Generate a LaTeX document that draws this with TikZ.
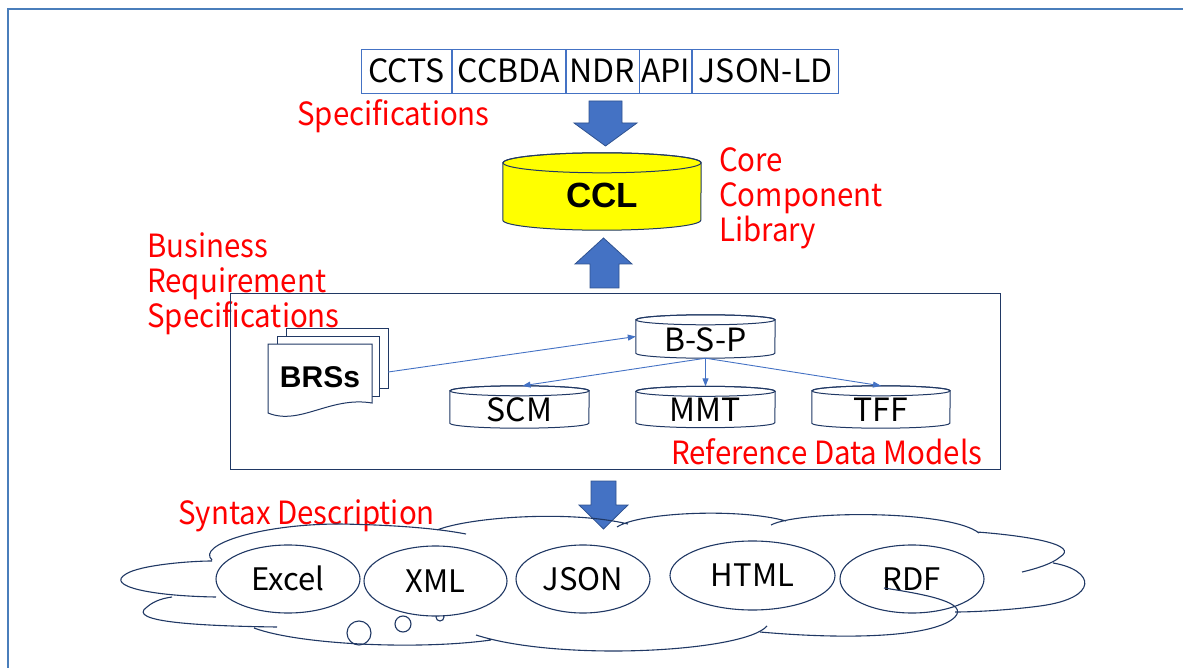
\documentclass[tikz,border=0pt]{standalone}
\usepackage{fontspec}
\setmainfont{Noto Sans CJK JP}
\newfontfamily\labelfont{Noto Sans CJK JP}[FakeStretch=0.92]
\newfontfamily\arialfont{Liberation Sans}
\usetikzlibrary{arrows.meta,shapes.geometric}
\definecolor{accent}{HTML}{4472C4}
\definecolor{accentdark}{HTML}{2F528F}
\definecolor{navy}{HTML}{203864}
\definecolor{labelred}{HTML}{FF0000}
\definecolor{cylyellow}{HTML}{FFFF00}
\definecolor{frameblue}{HTML}{4A7EBB}
% #1 node, #2 x radius, #3 y radius, #4 fill
\newcommand\cylshape[4]{%
  \path[cylline,fill=#4] ([yshift=-#3]#1.north west) -- ([yshift=#3]#1.south west)
    arc[start angle=180,end angle=360,x radius=#2,y radius=#3]
    -- ([yshift=-#3]#1.north east)
    arc[start angle=0,end angle=180,x radius=#2,y radius=#3] -- cycle;
  \draw[cylline] ([yshift=-#3]#1.north) ellipse[x radius=#2,y radius=#3];
}
\begin{document}
\begin{tikzpicture}[x=1pt,y=-1pt,
  txt/.style={font=\fontsize{32}{35}\selectfont},
  cell/.style={draw=accent, line width=0.8pt, inner sep=0pt, minimum height=44pt,
    txt, text height=23pt, text depth=0pt, anchor=west},
  redlabel/.style={text=labelred, font=\labelfont\fontsize{32}{35}\selectfont,
    anchor=west, inner sep=0pt, align=left},
  blockarrow/.style={fill=accent, draw=accentdark, line width=0.8pt},
  cylline/.style={draw=navy, line width=1pt},
  cylbox/.style={inner sep=0pt},
  cyltext/.style={txt, inner sep=0pt, text height=23pt, text depth=0pt},
  conn/.style={draw=accent, line width=0.9pt, -{Triangle[length=8pt,width=6pt]}},
  doc/.style={draw=navy, line width=1pt, fill=white},
  cloudline/.style={draw=navy, line width=1.1pt},
  syn/.style={ellipse, draw=navy, line width=1.1pt, fill=white, inner sep=0pt,
    font=\fontsize{31}{35}\selectfont, text height=22pt, text depth=0pt},
  frame/.style={draw=frameblue, line width=2pt}
]
\useasboundingbox (0,0) rectangle (1183,668);
% outer frame
\draw[frame] (8,668) -- (8,9) -- (1183,9);

% specification table
\node[cell, minimum width=90pt] (ccts) at (361,71) {CCTS};
\node[cell, minimum width=113pt] (ccbda) at (ccts.east) {CCBDA};
\node[cell, minimum width=73pt] (ndr) at (ccbda.east) {NDR};
\node[cell, minimum width=52pt] (api) at (ndr.east) {API};
\node[cell, minimum width=146pt] (jsonld) at (api.east) {JSON-LD};

\node[redlabel] (speclabel) at (297,116) {Specifications};

% arrow 1
\draw[blockarrow] (589,101) -- (622,101) -- (622,123) -- (637,123) -- (605.5,146)
  -- (574,123) -- (589,123) -- cycle;

% CCL
\node[cylbox, minimum width=198pt, minimum height=77pt] (ccl) at (602,191.5) {};
\cylshape{ccl}{99pt}{10pt}{cylyellow}
\node[cyltext, font=\arialfont\bfseries\fontsize{35}{38}\selectfont, text height=25pt] (ccltext) at ([yshift=-4pt]ccl.center) {CCL};
\node[redlabel] (corelabel) at (719,198.5) {Core\\Component\\Library};

% arrow 2
\draw[blockarrow] (590,288) -- (619,288) -- (619,264) -- (632,264) -- (603.5,238)
  -- (575,264) -- (590,264) -- cycle;

\node[redlabel] (brslabel) at (147,284) {Business\\Requirement\\Specifications};

% inner box
\draw[draw=navy, line width=1pt] (230,294) rectangle (1000,469);

% BRSs document stack
\node[cylbox, minimum width=120pt, minimum height=88pt] (brs) at (328,372) {};
\draw[doc] (286,328) rectangle (388,388);
\draw[doc] (277,336) rectangle (379,396);
\draw[doc] (268,344) -- (372,344) -- (372,403) .. controls (330,396) and (300,426) .. (268,413) -- cycle;
\node[cyltext, font=\arialfont\bfseries\fontsize{30}{32}\selectfont, text height=21pt] (brstext) at (320,377) {BRSs};

% reference data model cylinders
\node[cylbox, minimum width=139pt, minimum height=43pt] (bsp) at (705.5,336.5) {};
\cylshape{bsp}{69.5pt}{5pt}{white}
\node[cyltext] (bsptext) at ([yshift=-3pt]bsp.center) {B-S-P};

\node[cylbox, minimum width=139pt, minimum height=42pt] (scm) at (519.5,407) {};
\cylshape{scm}{69.5pt}{5pt}{white}
\node[cyltext] (scmtext) at ([yshift=-3pt]scm.center) {SCM};

\node[cylbox, minimum width=139pt, minimum height=41pt] (mmt) at (705.5,407) {};
\cylshape{mmt}{69.5pt}{5pt}{white}
\node[cyltext] (mmttext) at ([yshift=-3pt]mmt.center) {MMT};

\node[cylbox, minimum width=138pt, minimum height=42pt] (tff) at (881,407) {};
\cylshape{tff}{69pt}{5pt}{white}
\node[cyltext] (tfftext) at ([yshift=-3pt]tff.center) {TFF};

\draw[conn] (brs.east) -- (bsp.west);
\draw[conn] (bsp.south) -- ([xshift=3pt]scm.north);
\draw[conn] (bsp.south) -- (mmt.north);
\draw[conn] (bsp.south) -- (tff.north);

\node[redlabel] (rdmlabel) at (671,452) {Reference Data Models};

% arrow 3
\draw[blockarrow] (591,481) -- (616,481) -- (616,505) -- (628,505) -- (603.5,529)
  -- (579,505) -- (591,505) -- cycle;

\node[redlabel] (synlabel) at (178,516) {Syntax Description};

% cloud
\draw[cloudline]
 (212,560) .. controls (196,545) and (260,524) .. (340,524) .. controls (400,525) and (440,529) .. (466,534)
 (437,530) .. controls (470,517) and (570,510) .. (628,524)
 (617,527) .. controls (640,512) and (740,508) .. (786,521)
 (771,525) .. controls (800,510) and (950,510) .. (979,533)
 (977,532) .. controls (1030,536) and (1080,545) .. (1060,557) .. controls (1052,564) and (1035,569) .. (1022,572)
 (1053,563) .. controls (1095,570) and (1100,598) .. (1040,606) .. controls (1010,610) and (975,612) .. (955,612)
 (767,626) .. controls (745,652) and (560,662) .. (476,635)
 (491,640) .. controls (420,650) and (300,645) .. (254,628)
 (277,627) .. controls (200,626) and (125,622) .. (147,607) .. controls (155,600) and (165,598) .. (172,597)
 (216,597) .. controls (150,596) and (105,586) .. (126,574) .. controls (140,565) and (190,561) .. (212,561);
\draw[cloudline] (359,633) circle (12pt);
\draw[cloudline] (403,624) circle (8pt);
\draw[cloudline] (440,617) circle (4pt);

\node[syn, minimum width=144pt, minimum height=68pt] (excel) at (288,579) {Excel};
\node[syn, minimum width=143pt, minimum height=70pt] (xml) at (435.5,581) {XML};
\node[syn, minimum width=134pt, minimum height=68pt] (json) at (583,579) {JSON};
\node[syn, minimum width=165pt, minimum height=69pt] (html) at (752.5,575.5) {HTML};
\node[syn, minimum width=144pt, minimum height=68pt] (rdf) at (912,579) {RDF};

\draw[cloudline] (884,588) .. controls (930,595) and (968,603) .. (955,617)
  .. controls (935,637) and (850,640) .. (760,632);
\end{tikzpicture}
\end{document}
